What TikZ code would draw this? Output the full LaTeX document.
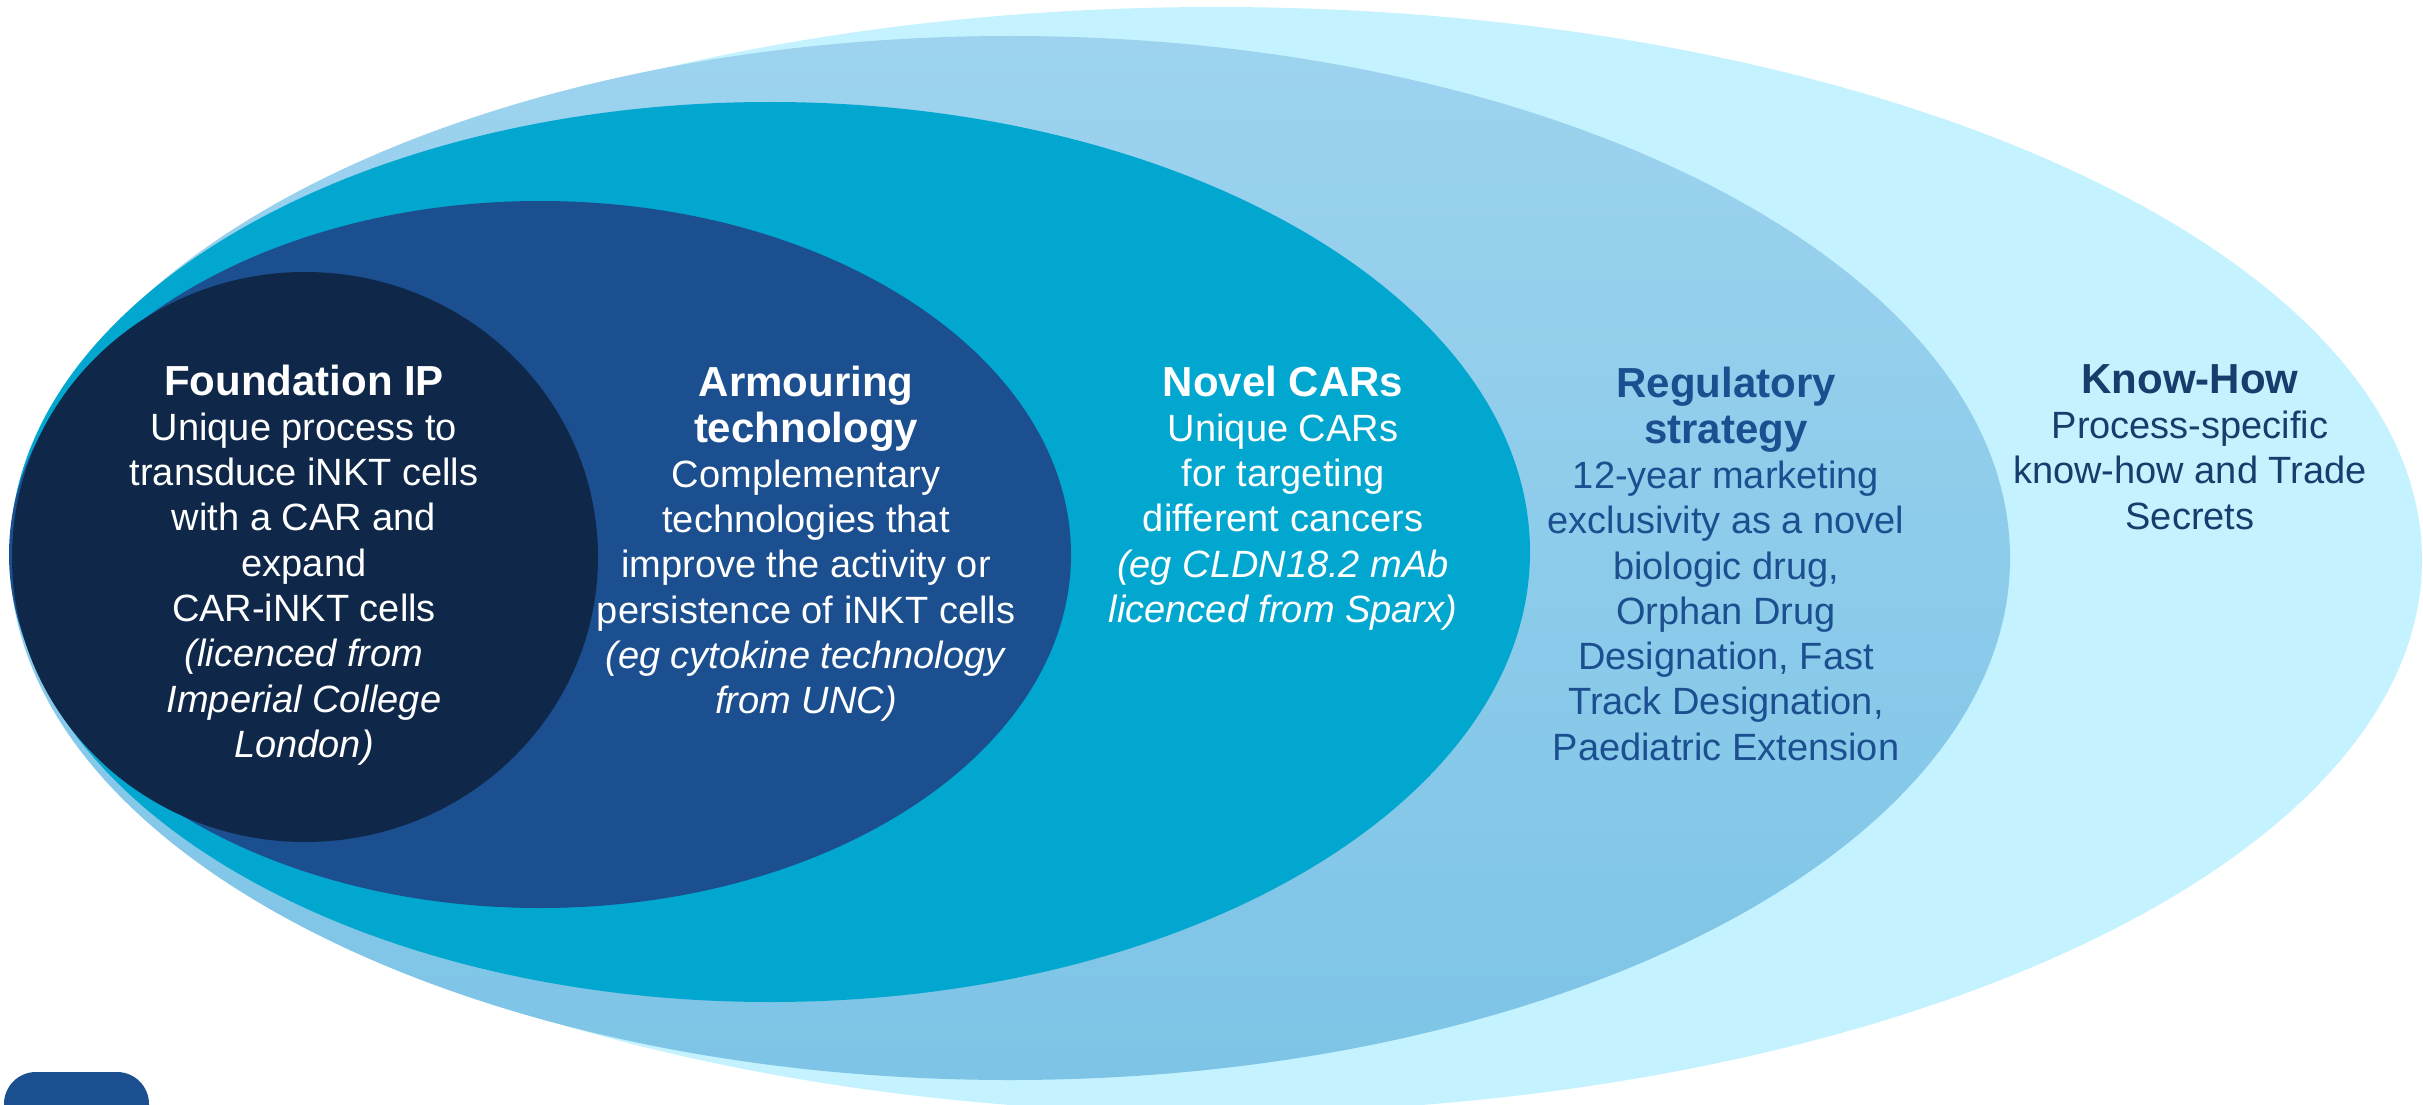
\documentclass[tikz,border=0pt]{standalone}
\usepackage{fontspec}
\setmainfont{Liberation Sans}
\definecolor{knowc}{HTML}{C4F2FE}
\definecolor{regtop}{HTML}{9DD3EF}
\definecolor{regbot}{HTML}{7DC4E6}
\definecolor{carc}{HTML}{02A7D0}
\definecolor{armc}{HTML}{1B4F8F}
\definecolor{foundc}{HTML}{0F2849}
\definecolor{regtext}{HTML}{1C4F8F}
\definecolor{knowtext}{HTML}{173D6C}
\newcommand\hdtext[1]{{\bfseries\fontsize{42}{45.3}\selectfont #1}}
\begin{document}
\begin{tikzpicture}[x=1pt,y=-1pt,
  lbl/.style={align=center, inner sep=0pt, font=\fontsize{38}{45.3}\selectfont}]
\useasboundingbox (0,0) rectangle (2423,1105);
\clip (0,0) rectangle (2423,1105);
\fill[knowc] (1216,560) ellipse [x radius=1206pt, y radius=553pt];
\shade[top color=regtop,bottom color=regbot] (1010,558) ellipse [x radius=1000pt, y radius=522pt];
\fill[carc] (770,552) ellipse [x radius=760pt, y radius=450pt];
\fill[armc] (540,554.5) ellipse [x radius=531pt, y radius=353.5pt];
\fill[foundc] (305,557) ellipse [x radius=293pt, y radius=285pt];
\fill[armc, rounded corners=32pt] (4,1072) rectangle (149,1180);

\node[lbl, text=white] (found) at (304,565) {\hdtext{Foundation IP}\\Unique process to\\transduce iNKT cells\\with a CAR and\\expand\\CAR-iNKT cells\\\textit{(licenced from}\\\textit{Imperial College}\\\textit{London)}};
\node[lbl, text=white] (armour) at (806,544) {\hdtext{Armouring}\\\hdtext{technology}\\Complementary\\technologies that\\improve the activity or\\persistence of iNKT cells\\\textit{(eg cytokine technology}\\\textit{from UNC)}};
\node[lbl, text=white] (cars) at (1283,498) {\hdtext{Novel CARs}\\Unique CARs\\for targeting\\different cancers\\\textit{(eg CLDN18.2 mAb}\\\textit{licenced from Sparx)}};
\node[lbl, text=regtext] (reg) at (1726,564) {\hdtext{Regulatory}\\\hdtext{strategy}\\12-year marketing\\exclusivity as a novel\\biologic drug,\\Orphan Drug\\Designation, Fast\\Track Designation,\\Paediatric Extension};
\node[lbl, text=knowtext] (know) at (2190,447) {\hdtext{Know-How}\\Process-specific\\know-how and Trade\\Secrets};
\end{tikzpicture}
\end{document}
